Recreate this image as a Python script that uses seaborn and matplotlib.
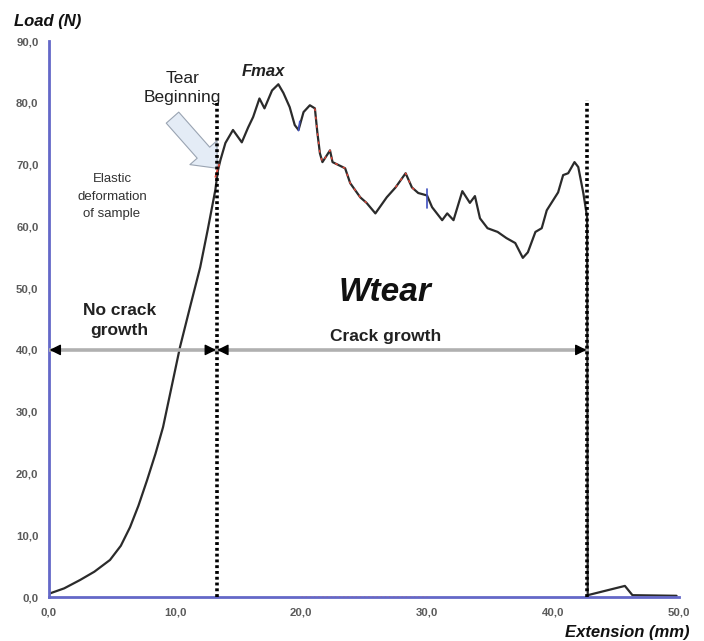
import numpy as np
import pandas as pd
import matplotlib.pyplot as plt
import seaborn as sns
from matplotlib.ticker import FuncFormatter

# load-extension curve
ext = [0.0, 0.16, 1.2, 2.46, 3.6, 4.84, 5.7, 6.43, 7.1, 7.78, 8.45, 9.05, 9.84,
       10.4, 11.2, 12.0, 12.6, 13.2, 13.4, 13.6, 14.0, 14.6, 15.3, 15.8, 16.2,
       16.7, 17.1, 17.7, 18.2, 18.6, 19.1, 19.5, 19.8, 20.2, 20.7, 21.1, 21.3,
       21.5, 21.7, 22.3, 22.5, 23.5, 23.9, 24.7, 25.2, 25.9, 26.8, 27.5, 28.3,
       28.8, 29.3, 30.0, 30.4, 31.2, 31.6, 32.1, 32.8, 33.4, 33.8, 34.2, 34.8,
       35.6, 36.3, 37.0, 37.6, 38.0, 38.6, 39.1, 39.5, 40.4, 40.8, 41.2, 41.7,
       42.0, 42.4, 42.7, 42.75, 45.7, 46.3, 49.8]
load = [0.5, 0.65, 1.4, 2.75, 4.1, 6.0, 8.3, 11.3, 14.8, 18.9, 23.2, 27.5, 35.1,
        40.5, 47.0, 53.4, 59.5, 65.9, 69.0, 70.7, 73.5, 75.6, 73.6, 76.0, 77.7,
        80.7, 79.1, 82.0, 83.0, 81.6, 79.3, 76.4, 75.6, 78.5, 79.6, 79.1, 75.1,
        71.8, 70.4, 72.3, 70.4, 69.4, 67.0, 64.7, 63.8, 62.1, 64.7, 66.3, 68.6,
        66.3, 65.4, 65.0, 63.1, 61.0, 62.1, 61.0, 65.7, 63.8, 64.9, 61.3, 59.7,
        59.1, 58.1, 57.3, 54.9, 55.8, 59.1, 59.7, 62.6, 65.5, 68.3, 68.6, 70.4,
        69.6, 65.4, 61.5, 0.3, 1.8, 0.3, 0.2]

tear_start = 13.3   # mm
tear_end = 42.7     # mm
xticks = [0, 10, 20, 30, 40, 50]
yticks = [0, 10, 20, 30, 40, 50, 60, 70, 80, 90]

df = pd.DataFrame({"ext": ext, "load": load})

sns.set_style("white")
plt.rcParams["font.family"] = ["Liberation Sans", "DejaVu Sans"]

fig = plt.figure(figsize=(7.04, 6.41), dpi=100)
ax = fig.add_axes([0.0696, 0.0686, 0.895, 0.8674])

axis_blue = "#6468c8"

sns.lineplot(data=df, x="ext", y="load", ax=ax, color="#2b2b2b", lw=1.6,
             sort=False, estimator=None)

# red / blue traces overlaid on parts of the curve
red = df[(df.ext >= 21.1) & (df.ext <= 25.2)]
ax.plot(red.ext, red.load, color="#e8483a", lw=1.0, ls=(0, (2, 4)))
red2 = df[(df.ext >= 27.5) & (df.ext <= 29.5)]
ax.plot(red2.ext, red2.load, color="#e8483a", lw=1.0, ls=(0, (2, 4)))
ax.plot([13.2, 13.5], [68.0, 70.0], color="#e8483a", lw=1.2)
ax.plot([19.8, 19.9], [75.5, 77.0], color="#4050c0", lw=1.2)
ax.plot([30.0, 30.0], [63.0, 66.0], color="#4050c0", lw=1.2)
ax.plot([20, 30], [0, 0], color="#e8483a", lw=1.0, ls=(0, (1, 2)), zorder=5)

# tear boundaries
for xv in [tear_start, tear_end]:
    ax.plot([xv, xv], [0, 80.5], color="black", lw=2.6, ls=(0, (0.8, 0.8)),
            zorder=4)

# double arrows at 40 N: grey shaft, black heads
head = dict(arrowstyle="-|>,head_length=0.6,head_width=0.3", color="black",
            lw=1.0, mutation_scale=11, shrinkA=0, shrinkB=0)
for x0, x1 in [(0, tear_start), (tear_start, tear_end)]:
    ax.plot([x0, x1], [40, 40], color="#b0b0b0", lw=2.6, zorder=3)
    ax.annotate("", xy=(x0 + 0.05, 40), xytext=(x0 + 0.6, 40), arrowprops=head,
                zorder=5)
    ax.annotate("", xy=(x1 - 0.05, 40), xytext=(x1 - 0.6, 40), arrowprops=head,
                zorder=5)

# block arrow pointing at tear beginning
ax.annotate("", xy=(13.35, 69.4), xytext=(9.8, 77.6),
            arrowprops=dict(arrowstyle="simple,head_length=0.75,head_width=1.3,tail_width=0.6",
                            fc="#e4ecf6", ec="#9aa4b2", lw=0.8, mutation_scale=20,
                            shrinkA=0, shrinkB=0), zorder=3)

ax.text(10.6, 82.4, "Tear\nBeginning", ha="center", va="center",
        fontsize=12.5, color="#222222", linespacing=1.3)
ax.text(17.0, 85.0, "Fmax", ha="center", va="center", fontsize=12,
        fontweight="bold", fontstyle="italic", color="#222222")
ax.text(5.0, 64.8, "Elastic\ndeformation\nof sample", ha="center", va="center",
        fontsize=9.5, color="#333333", linespacing=1.6)
ax.text(26.7, 49.3, "Wtear", ha="center", va="center", fontsize=24,
        fontweight="bold", fontstyle="italic", color="#111111")
ax.text(5.6, 44.8, "No crack\ngrowth", ha="center", va="center", fontsize=12.5,
        fontweight="bold", color="#222222", linespacing=1.45)
ax.text(26.7, 42.1, "Crack growth", ha="center", va="center", fontsize=12.5,
        fontweight="bold", color="#222222")

ax.set_xlim(0, 50)
ax.set_ylim(0, 90)
ax.set_xticks(xticks)
ax.set_yticks(yticks)
fmt = FuncFormatter(lambda v, p: f"{v:.1f}".replace(".", ","))
ax.xaxis.set_major_formatter(fmt)
ax.yaxis.set_major_formatter(fmt)
ax.tick_params(axis="both", colors=axis_blue, labelcolor="#5a5a5a",
               labelsize=8.2, length=4, width=1.5)
ax.tick_params(axis="x", direction="inout", length=7, pad=4)
for lbl in ax.get_xticklabels() + ax.get_yticklabels():
    lbl.set_fontweight("bold")

sns.despine(ax=ax)
for side in ["left", "bottom"]:
    ax.spines[side].set_color(axis_blue)
    ax.spines[side].set_linewidth(2)

ax.set_xlabel("")
ax.set_ylabel("")
fig.text(0.02, 0.966, "Load (N)", fontsize=12, fontweight="bold",
         fontstyle="italic", color="#111111", va="center")
fig.text(0.98, 0.014, "Extension (mm)", fontsize=12, fontweight="bold",
         fontstyle="italic", color="#111111", ha="right", va="center")

fig.savefig("out.png", dpi=100)
